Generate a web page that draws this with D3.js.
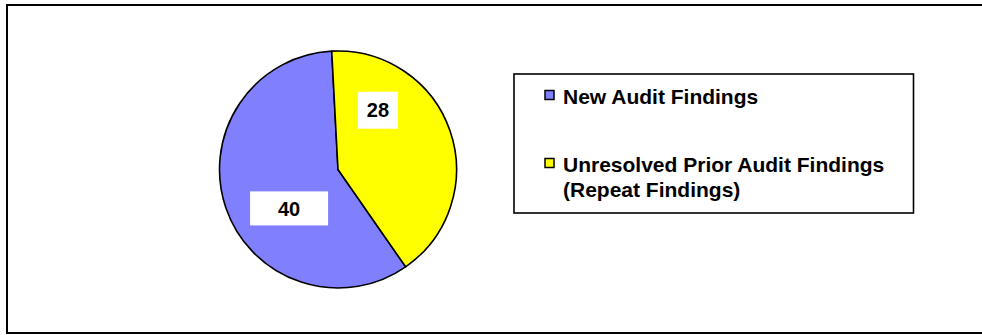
<!DOCTYPE html>
<html>
<head>
<meta charset="utf-8">
<script src="https://cdn.jsdelivr.net/npm/d3@7/dist/d3.min.js"></script>
<style>
  html, body { margin: 0; padding: 0; background: #fff; overflow: hidden; }
  svg { display: block; }
  text { font-family: "Liberation Sans", Arial, sans-serif; font-weight: bold; fill: #000; }
</style>
</head>
<body>
<svg id="chart" width="982" height="335"></svg>
<script>
// Audit findings breakdown
const categories = ["New Audit Findings", "Unresolved Prior Audit Findings (Repeat Findings)"];
const legendLines = [["New Audit Findings"], ["Unresolved Prior Audit Findings", "(Repeat Findings)"]];
const values = [40, 28];
const colors = ["#8080FF", "#FFFF00"];

// label placement: angle (degrees clockwise from 12 o'clock), distance from centre, box size
const labelStyle = [
  { angle: 231.5, dist: 62.5, w: 78, h: 34 },
  { angle: 34, dist: 71.5, w: 40, h: 37 }
];

const svg = d3.select("#chart");

// outer chart frame: left, top and bottom edges (right edge lies past the window)
svg.append("path")
  .attr("d", "M982,5H7V333H982")
  .attr("fill", "none").attr("stroke", "#000").attr("stroke-width", 2);

const cx = 338, cy = 169.5, r = 118.5;
const g = svg.append("g").attr("transform", `translate(${cx},${cy})`);

const startDeg = 145.2;
const pie = d3.pie().sort(null)
  .startAngle(startDeg * Math.PI / 180)
  .endAngle(startDeg * Math.PI / 180 + 2 * Math.PI);
const arcs = pie(values);
const arc = d3.arc().innerRadius(0).outerRadius(r);

g.selectAll("path.slice").data(arcs).join("path")
  .attr("class", "slice")
  .attr("d", arc)
  .attr("fill", (d, i) => colors[i])
  .attr("stroke", "#000")
  .attr("stroke-width", 1.6)
  .attr("stroke-linejoin", "round");

// data labels
const labels = g.selectAll("g.lbl").data(arcs).join("g").attr("class", "lbl")
  .attr("transform", (d, i) => {
    const s = labelStyle[i];
    const a = s.angle * Math.PI / 180;
    const p = d3.arc().innerRadius(s.dist).outerRadius(s.dist).centroid({ startAngle: a, endAngle: a });
    return `translate(${p[0]},${p[1]})`;
  });
labels.append("rect")
  .attr("x", (d, i) => -labelStyle[i].w / 2)
  .attr("y", (d, i) => -labelStyle[i].h / 2)
  .attr("width", (d, i) => labelStyle[i].w)
  .attr("height", (d, i) => labelStyle[i].h)
  .attr("fill", "#fff");
labels.append("text")
  .attr("text-anchor", "middle")
  .attr("dy", "0.36em")
  .style("font-size", "20px")
  .text(d => d.value);

// legend
const lg = svg.append("g");
lg.append("rect")
  .attr("x", 514).attr("y", 74)
  .attr("width", 399.5).attr("height", 139)
  .attr("fill", "#fff").attr("stroke", "#000").attr("stroke-width", 1.6);

const rowY = d3.scalePoint().domain(categories).range([90, 158]);
const items = lg.selectAll("g.item").data(categories).join("g").attr("class", "item")
  .attr("transform", d => `translate(544.5,${rowY(d)})`);
items.append("rect")
  .attr("x", 0.5).attr("y", 0.5)
  .attr("width", 9).attr("height", 9)
  .attr("fill", (d, i) => colors[i])
  .attr("stroke", "#000").attr("stroke-width", 1.5);
items.each(function (d, i) {
  const t = d3.select(this).append("text")
    .attr("y", 13.7)
    .style("font-size", "21px");
  legendLines[i].forEach((line, j) => {
    t.append("tspan").attr("x", 18.5).attr("dy", j === 0 ? 0 : 25).text(line);
  });
});
</script>
</body>
</html>
